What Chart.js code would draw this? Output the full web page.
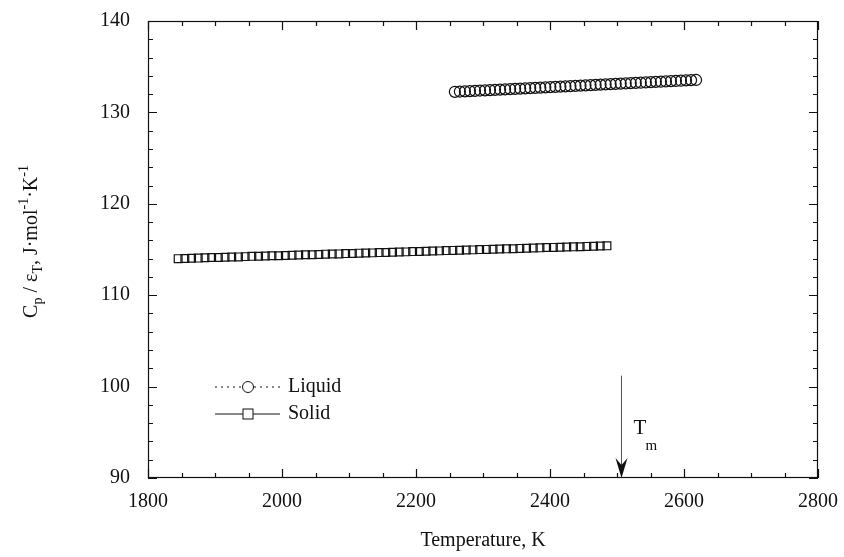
<!DOCTYPE html>
<html>
<head>
<meta charset="utf-8">
<script src="https://cdn.jsdelivr.net/npm/chart.js@4.4.1/dist/chart.umd.min.js"></script>
<style>
  html, body { margin: 0; padding: 0; background: #fff; }
  #wrap { width: 844px; height: 557px; }
</style>
</head>
<body>
<div id="wrap"><canvas id="cpChart"></canvas></div>
<script>
// data
const solidT = [1845, 1855, 1865, 1875, 1885, 1895, 1905, 1915, 1925, 1935, 1945, 1955, 1965,
    1975, 1985, 1995, 2005, 2015, 2025, 2035, 2045, 2055, 2065, 2075, 2085, 2095, 2105, 2115,
    2125, 2135, 2145, 2155, 2165, 2175, 2185, 2195, 2205, 2215, 2225, 2235, 2245, 2255, 2265,
    2275, 2285, 2295, 2305, 2315, 2325, 2335, 2345, 2355, 2365, 2375, 2385, 2395, 2405, 2415,
    2425, 2435, 2445, 2455, 2465, 2475, 2485];
const solidCp = [114.00, 114.02, 114.05, 114.06, 114.09, 114.12, 114.13, 114.15, 114.18, 114.19,
    114.22, 114.25, 114.26, 114.28, 114.31, 114.32, 114.35, 114.38, 114.39, 114.42, 114.43,
    114.46, 114.49, 114.50, 114.52, 114.55, 114.57, 114.60, 114.61, 114.63, 114.66, 114.68,
    114.70, 114.72, 114.74, 114.77, 114.79, 114.80, 114.83, 114.85, 114.88, 114.90, 114.92,
    114.94, 114.96, 114.99, 115.01, 115.03, 115.05, 115.07, 115.09, 115.12, 115.14, 115.16,
    115.18, 115.21, 115.23, 115.24, 115.27, 115.29, 115.31, 115.34, 115.36, 115.38, 115.40];

const liquidT = [2258, 2265.5, 2273, 2280.5, 2288, 2295.5, 2303, 2310.5, 2318, 2325.5, 2333,
    2340.5, 2348, 2355.5, 2363, 2370.5, 2378, 2385.5, 2393, 2400.5, 2408, 2415.5, 2423, 2430.5,
    2438, 2445.5, 2453, 2460.5, 2468, 2475.5, 2483, 2490.5, 2498, 2505.5, 2513, 2520.5, 2528,
    2535.5, 2543, 2550.5, 2558, 2565.5, 2573, 2580.5, 2588, 2595.5, 2603, 2610.5, 2618];
const liquidCp = [132.25, 132.28, 132.30, 132.33, 132.36, 132.39, 132.41, 132.44, 132.47, 132.49,
    132.52, 132.55, 132.58, 132.60, 132.63, 132.66, 132.68, 132.71, 132.74, 132.77, 132.79,
    132.82, 132.85, 132.87, 132.90, 132.93, 132.96, 132.98, 133.01, 133.04, 133.06, 133.09,
    133.12, 133.15, 133.17, 133.20, 133.23, 133.25, 133.28, 133.31, 133.34, 133.36, 133.39,
    133.42, 133.44, 133.47, 133.50, 133.53, 133.55];

const meltT = 2506;
const arrowTopCp = 101.2;

const xTicks = [1800, 2000, 2200, 2400, 2600, 2800];
const yTicks = [90, 100, 110, 120, 130, 140];

const serif = '"Liberation Serif", "DejaVu Serif", serif';

const toPoints = (xs, ys) => xs.map((x, i) => ({ x: x, y: ys[i] }));

// inward ticks on all four sides, legend, Tm arrow, y title
const decorations = {
    id: 'decorations',
    afterDraw(chart) {
        const ctx = chart.ctx;
        const xs = chart.scales.x;
        const ys = chart.scales.y;
        const a = chart.chartArea;
        ctx.save();
        ctx.strokeStyle = '#111';
        ctx.lineWidth = 1.2;

        // frame
        ctx.strokeRect(a.left + 0.5, a.top + 0.5, a.right - a.left - 1, a.bottom - a.top - 1);

        ctx.beginPath();
        for (let v = 1800; v <= 2800; v += 50) {
            const px = Math.round(xs.getPixelForValue(v)) + 0.5;
            const len = (v % 200 === 0) ? 9 : 5;
            ctx.moveTo(px, a.bottom); ctx.lineTo(px, a.bottom - len);
            ctx.moveTo(px, a.top); ctx.lineTo(px, a.top + len);
        }
        for (let v = 90; v <= 140; v += 2) {
            const py = Math.round(ys.getPixelForValue(v)) + 0.5;
            const len = (v % 10 === 0) ? 9 : 5;
            ctx.moveTo(a.left, py); ctx.lineTo(a.left + len, py);
            ctx.moveTo(a.right, py); ctx.lineTo(a.right - len, py);
        }
        ctx.stroke();

        // legend
        const lx0 = 215, lx1 = 280, lmid = 248;
        const ly1 = 387, ly2 = 414;
        ctx.lineWidth = 1;
        ctx.setLineDash([2, 4]);
        ctx.beginPath();
        ctx.moveTo(lx0, ly1); ctx.lineTo(lmid - 6, ly1);
        ctx.moveTo(lmid + 6, ly1); ctx.lineTo(lx1, ly1);
        ctx.stroke();
        ctx.setLineDash([]);
        ctx.beginPath();
        ctx.arc(lmid, ly1, 5.5, 0, Math.PI * 2);
        ctx.stroke();
        ctx.beginPath();
        ctx.moveTo(lx0, ly2); ctx.lineTo(lmid - 5, ly2);
        ctx.moveTo(lmid + 5, ly2); ctx.lineTo(lx1, ly2);
        ctx.stroke();
        ctx.strokeRect(lmid - 5, ly2 - 5, 10, 10);
        ctx.fillStyle = '#111';
        ctx.font = '20px ' + serif;
        ctx.textBaseline = 'middle';
        ctx.textAlign = 'left';
        ctx.fillText('Liquid', 288, ly1);
        ctx.fillText('Solid', 288, ly2);

        // melting point arrow
        const mx = Math.round(xs.getPixelForValue(meltT)) + 0.5;
        const top = ys.getPixelForValue(arrowTopCp);
        ctx.strokeStyle = '#555';
        ctx.beginPath();
        ctx.moveTo(mx, top); ctx.lineTo(mx, a.bottom - 10);
        ctx.stroke();
        ctx.fillStyle = '#111';
        ctx.beginPath();
        ctx.moveTo(mx, a.bottom);
        ctx.lineTo(mx - 6, a.bottom - 20);
        ctx.lineTo(mx, a.bottom - 13);
        ctx.lineTo(mx + 6, a.bottom - 20);
        ctx.closePath();
        ctx.fill();
        ctx.font = '21px ' + serif;
        ctx.fillText('T', mx + 12, 428);
        ctx.font = '15px ' + serif;
        ctx.fillText('m', mx + 24, 446);

        // y axis title with sub/superscripts
        const parts = [
            ['C', 20, 0], ['p', 14, 6], [' / ', 20, 0], ['\u03b5', 20, 0], ['T', 14, 6],
            [', J\u00b7mol', 20, 0], ['-1', 14, -8], ['\u00b7K', 20, 0], ['-1', 14, -8]
        ];
        let total = 0;
        parts.forEach(p => { ctx.font = p[1] + 'px ' + serif; total += ctx.measureText(p[0]).width; });
        ctx.translate(32, (a.top + a.bottom) / 2 - 8);
        ctx.rotate(-Math.PI / 2);
        let cx = -total / 2;
        parts.forEach(p => {
            ctx.font = p[1] + 'px ' + serif;
            ctx.fillText(p[0], cx, p[2]);
            cx += ctx.measureText(p[0]).width;
        });
        ctx.restore();
    }
};

new Chart(document.getElementById('cpChart'), {
    type: 'scatter',
    data: {
        datasets: [
            {
                label: 'Liquid',
                data: toPoints(liquidT, liquidCp),
                pointStyle: 'circle',
                pointRadius: 5.5,
                pointBorderWidth: 1.2,
                borderColor: '#111',
                backgroundColor: 'rgba(0,0,0,0)',
                showLine: false
            },
            {
                label: 'Solid',
                data: toPoints(solidT, solidCp),
                pointStyle: 'rect',
                pointRadius: 5.5,
                pointBorderWidth: 1.2,
                borderColor: '#111',
                backgroundColor: 'rgba(0,0,0,0)',
                showLine: false
            }
        ]
    },
    options: {
        responsive: true,
        maintainAspectRatio: false,
        animation: false,
        layout: { padding: { left: 0, right: 26, top: 21, bottom: 0 } },
        scales: {
            x: {
                type: 'linear',
                min: 1800,
                max: 2800,
                afterBuildTicks: s => { s.ticks = xTicks.map(v => ({ value: v })); },
                afterFit: s => { s.height = 79; s.paddingLeft = 0; s.paddingRight = 0; },
                grid: { display: false, drawTicks: false },
                border: { display: false },
                ticks: {
                    color: '#111',
                    font: { family: serif, size: 20 },
                    padding: 12,
                    callback: v => String(v)
                },
                title: {
                    display: true,
                    text: 'Temperature, K',
                    color: '#111',
                    font: { family: serif, size: 20 },
                    padding: { top: 4 }
                }
            },
            y: {
                type: 'linear',
                min: 90,
                max: 140,
                afterBuildTicks: s => { s.ticks = yTicks.map(v => ({ value: v })); },
                afterFit: s => { s.width = 148; s.paddingTop = 0; s.paddingBottom = 0; },
                grid: { display: false, drawTicks: false },
                border: { display: false },
                ticks: {
                    color: '#111',
                    font: { family: serif, size: 20 },
                    padding: 18,
                    callback: v => String(v)
                }
            }
        },
        plugins: {
            legend: { display: false },
            tooltip: { enabled: false }
        }
    },
    plugins: [decorations]
});
</script>
</body>
</html>
